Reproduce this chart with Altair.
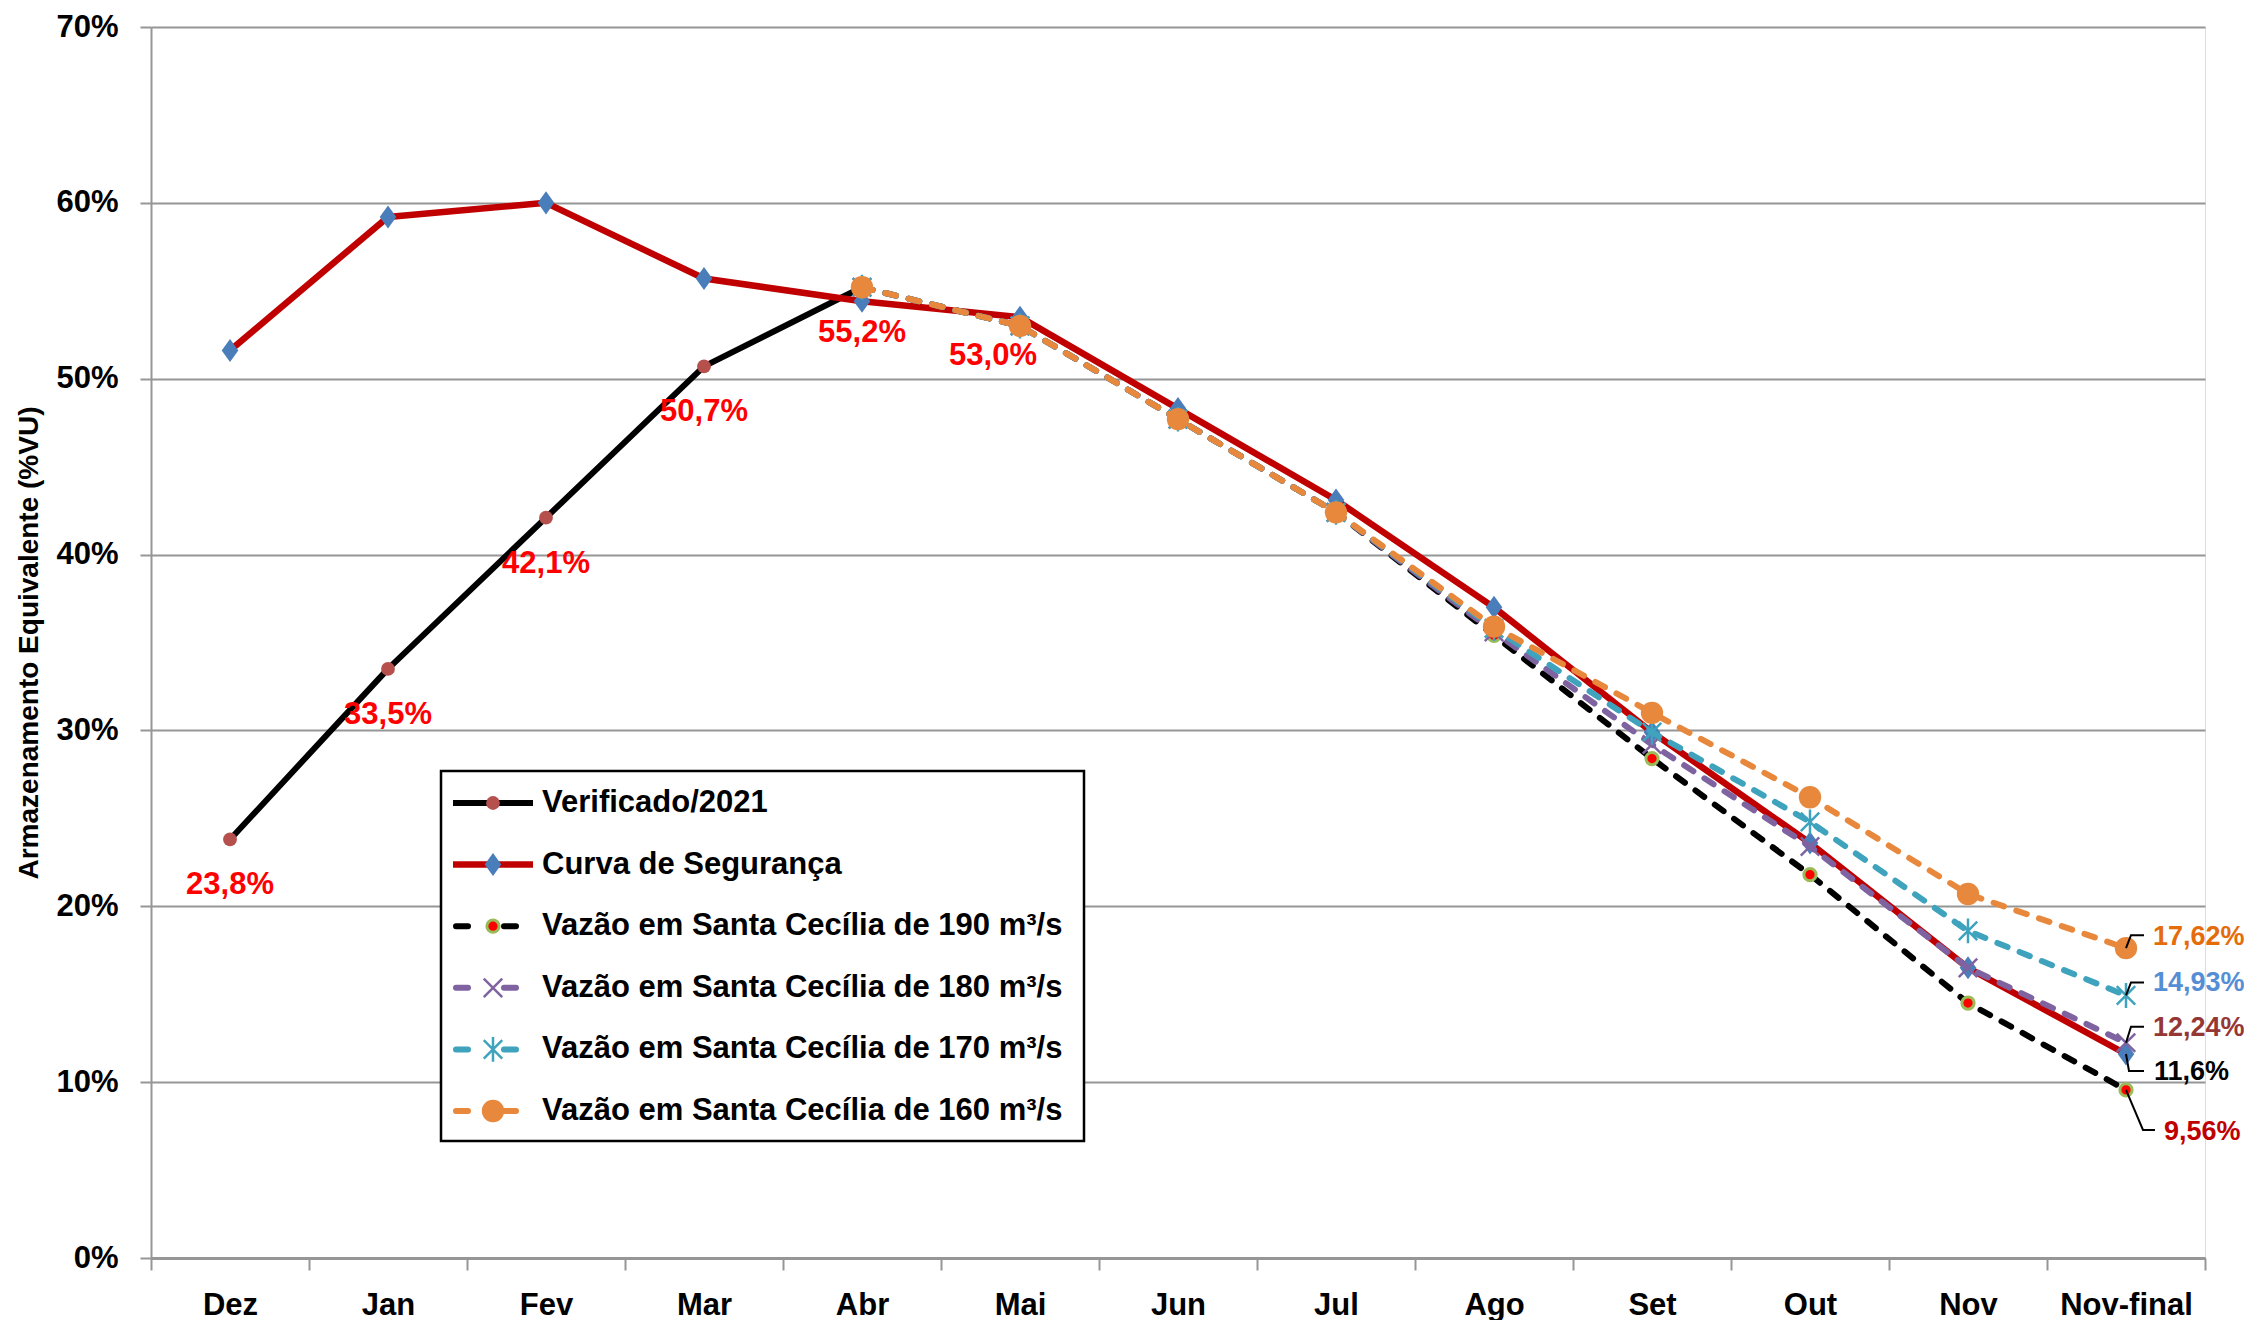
import altair as alt
import pandas as pd

# ---------------- data ----------------
months = ["Dez", "Jan", "Fev", "Mar", "Abr", "Mai", "Jun", "Jul", "Ago", "Set", "Out", "Nov", "Nov-final"]
verif_months = months[:5]
scen_months = months[4:]

verificado = [23.8, 33.5, 42.1, 50.7, 55.2]
curva = [51.6, 59.2, 60.0, 55.7, 54.4, 53.5, 48.3, 43.1, 37.0, 29.9, 23.6, 16.5, 11.6]
v190 = [55.2, 53.0, 47.7, 42.4, 35.4, 28.4, 21.8, 14.5, 9.56]
v180 = [55.2, 53.0, 47.7, 42.4, 35.6, 29.2, 23.4, 16.5, 12.24]
v170 = [55.2, 53.0, 47.7, 42.4, 35.8, 29.9, 24.8, 18.6, 14.93]
v160 = [55.2, 53.0, 47.7, 42.4, 35.9, 31.0, 26.2, 20.7, 17.62]

names = [
    "Verificado/2021",
    "Curva de Segurança",
    "Vazão em Santa Cecília de 190 m³/s",
    "Vazão em Santa Cecília de 180 m³/s",
    "Vazão em Santa Cecília de 170 m³/s",
    "Vazão em Santa Cecília de 160 m³/s",
]
y_title = "Armazenamento Equivalente (%VU)"

# ---------------- styles ----------------
FONT = "Liberation Sans"
GRAY = "#969696"
W, H = 2054, 1231
DIAMOND = "M0,-1.25L0.9,0L0,1.25L-0.9,0Z"
XSHAPE = "M-1,-1L1,1M-1,1L1,-1"
AST = "M-1,-1L1,1M-1,1L1,-1M0,-1.35L0,1.35"
DASH = [11, 13]


def pct(v, d):
    return f"{v:.{d}f}".replace(".", ",") + "%"


series = [
    dict(name=names[0], months=verif_months, values=verificado, color="#000000", width=6, dash=None,
         mk=dict(shape="circle", filled=True, fill="#B5504D", size=190, strokeWidth=0)),
    dict(name=names[1], months=months, values=curva, color="#C00000", width=6.5, dash=None,
         mk=dict(shape=DIAMOND, filled=True, fill="#4A7EBB", size=340, strokeWidth=0)),
    dict(name=names[2], months=scen_months, values=v190, color="#000000", width=6, dash=DASH,
         mk=dict(shape="circle", filled=True, fill="#FF0000", stroke="#9BBB59", size=150, strokeWidth=3)),
    dict(name=names[3], months=scen_months, values=v180, color="#7F63A1", width=6, dash=DASH,
         mk=dict(shape=XSHAPE, filled=False, stroke="#7F63A1", size=340, strokeWidth=2.5)),
    dict(name=names[4], months=scen_months, values=v170, color="#3FA3BE", width=6, dash=DASH,
         mk=dict(shape=AST, filled=False, stroke="#3FA3BE", size=340, strokeWidth=2.5)),
    dict(name=names[5], months=scen_months, values=v160, color="#E8883C", width=6, dash=DASH,
         mk=dict(shape="circle", filled=True, fill="#E8883C", size=500, strokeWidth=0)),
]

x_enc = alt.X(
    "month:N", sort=months,
    scale=alt.Scale(type="band", domain=months, paddingInner=0, paddingOuter=0),
    bandPosition=0.5,
    axis=alt.Axis(title=None, labelAngle=0, tickBand="extent", tickSize=12, tickColor=GRAY, tickWidth=2,
                  domainColor=GRAY, domainWidth=3, labelPadding=20, labelFont=FONT, labelFontSize=31,
                  labelFontWeight="bold", labelColor="black", grid=False),
)
y_enc = alt.Y(
    "value:Q", scale=alt.Scale(domain=[0, 70], nice=False),
    axis=alt.Axis(values=list(range(0, 71, 10)), labelExpr="datum.value + '%'", grid=True,
                  gridColor=GRAY, gridWidth=2, domainColor=GRAY, domainWidth=2, tickColor=GRAY,
                  tickWidth=2, tickSize=11, labelPadding=22, labelFont=FONT, labelFontSize=31,
                  labelFontWeight="bold", labelColor="black", title=y_title, titleFont=FONT,
                  titleFontSize=28, titleFontWeight="bold", titleColor="black", titleX=-122,
                  titleY=H / 2, titleAngle=270, titleAlign="center", titleBaseline="middle"),
)

layers = []
for s in series:
    df = pd.DataFrame({"month": s["months"], "value": s["values"]})
    lkw = dict(color=s["color"], strokeWidth=s["width"], strokeJoin="round")
    if s["dash"]:
        lkw.update(strokeDash=s["dash"], strokeCap="round")
    layers.append(alt.Chart(df).mark_line(**lkw).encode(x=x_enc, y=y_enc))
    layers.append(alt.Chart(df).mark_point(opacity=1, **s["mk"]).encode(x=x_enc, y=y_enc))

# data labels of Verificado/2021
lab_df = pd.DataFrame({"month": verif_months, "value": verificado,
                       "label": [pct(v, 1) for v in verificado]})
layers.append(alt.Chart(lab_df).mark_text(color="#FF0000", font=FONT, fontSize=31, fontWeight="bold",
                                          dy=46, align="center", baseline="middle")
              .encode(x=x_enc, y=y_enc, text="label:N"))
mai_df = pd.DataFrame({"month": [scen_months[1]], "value": [v190[1]], "label": [pct(v190[1], 1)]})
layers.append(alt.Chart(mai_df).mark_text(color="#FF0000", font=FONT, fontSize=31, fontWeight="bold",
                                          dx=-27, dy=30, align="center", baseline="middle")
              .encode(x=x_enc, y=y_enc, text="label:N"))

# end labels with leader lines
end_specs = [
    (v160[-1], 2, "#E46C0A", 27, -11, "M0,0L0.5,-1.3L1.8,-1.3"),
    (v170[-1], 2, "#558ED5", 27, -12, "M0,0L0.5,-1.3L1.8,-1.3"),
    (v180[-1], 2, "#953735", 27, -15, "M0,0L0.5,-1.6L1.8,-1.6"),
    (curva[-1], 1, "#000000", 28, 18, "M0,0L0.3,1.7L1.8,1.7"),
    (v190[-1], 2, "#C00000", 38, 42, "M0,0L1.7,4.0L2.9,4.0"),
]
for val, dec, col, dx, dy, path in end_specs:
    d = pd.DataFrame({"month": [months[-1]], "value": [val], "label": [pct(val, dec)]})
    layers.append(alt.Chart(d).mark_point(shape=path, filled=False, stroke="black", strokeWidth=2,
                                          size=400, opacity=1).encode(x=x_enc, y=y_enc))
    layers.append(alt.Chart(d).mark_text(color=col, font=FONT, fontSize=27, fontWeight="bold",
                                         dx=dx, dy=dy, align="left", baseline="middle")
                  .encode(x=x_enc, y=y_enc, text="label:N"))

# custom legend (pixel positions inside the plot area)
box = pd.DataFrame({"k": [0]})
layers.append(alt.Chart(box).mark_rect(fill="white", stroke="black", strokeWidth=2.5).encode(
    x=alt.value(290), x2=alt.value(933), y=alt.value(744), y2=alt.value(1114)))
for i, s in enumerate(series):
    yy = 776 + i * 61.6
    d = pd.DataFrame({"name": [s["name"]]})
    rkw = dict(color=s["color"], strokeWidth=s["width"])
    if s["dash"]:
        rkw.update(strokeDash=[12, 36], strokeCap="round", strokeDashOffset=-3)
    layers.append(alt.Chart(d).mark_rule(**rkw).encode(
        x=alt.value(302), x2=alt.value(382), y=alt.value(yy)))
    layers.append(alt.Chart(d).mark_point(opacity=1, **s["mk"]).encode(x=alt.value(342), y=alt.value(yy)))
    layers.append(alt.Chart(d).mark_text(font=FONT, fontSize=31, fontWeight="bold", color="black",
                                         align="left", baseline="middle").encode(
        x=alt.value(391), y=alt.value(yy), text="name:N"))

chart = alt.layer(*layers).properties(
    width=W, height=H,
    autosize=alt.AutoSizeParams(type="none"),
    padding={"left": 143, "top": 19, "right": 39, "bottom": 62},
).configure_view(strokeWidth=0).configure(font=FONT)

chart.save("out.html", embed_options={"renderer": "svg", "actions": False})
